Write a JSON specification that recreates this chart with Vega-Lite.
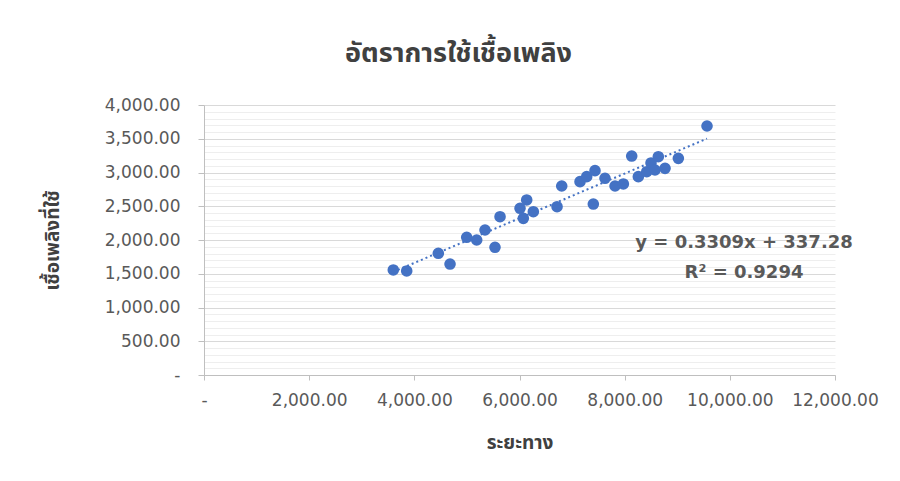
{
  "$schema": "https://vega.github.io/schema/vega-lite/v6.json",
  "autosize": {"type": "none"},
  "width": 631,
  "height": 270,
  "padding": {"left": 204, "top": 105, "right": 65, "bottom": 106},
  "background": "white",
  "title": {
    "text": "อัตราการใช้เชื้อเพลิง",
    "font": "Noto Sans Thai, Noto Sans Thai UI, Loma, Garuda, Noto Sans, sans-serif",
    "fontSize": 27,
    "fontWeight": "bold",
    "color": "#404040",
    "anchor": "middle",
    "dx": -61,
    "offset": 28
  },
  "config": {
    "view": {"stroke": null}
  },
  "datasets": {
    "points": [
      {"distance": 3600, "fuel": 1556},
      {"distance": 3855, "fuel": 1541},
      {"distance": 4456, "fuel": 1803},
      {"distance": 4679, "fuel": 1644},
      {"distance": 4996, "fuel": 2040},
      {"distance": 5186, "fuel": 2000},
      {"distance": 5344, "fuel": 2148},
      {"distance": 5534, "fuel": 1892},
      {"distance": 5630, "fuel": 2345},
      {"distance": 6010, "fuel": 2470},
      {"distance": 6137, "fuel": 2593},
      {"distance": 6263, "fuel": 2419},
      {"distance": 6073, "fuel": 2321},
      {"distance": 6714, "fuel": 2493},
      {"distance": 6803, "fuel": 2800},
      {"distance": 7151, "fuel": 2864},
      {"distance": 7278, "fuel": 2938},
      {"distance": 7436, "fuel": 3027},
      {"distance": 7404, "fuel": 2533},
      {"distance": 7626, "fuel": 2914},
      {"distance": 7817, "fuel": 2800},
      {"distance": 7975, "fuel": 2830},
      {"distance": 8134, "fuel": 3244},
      {"distance": 8260, "fuel": 2938},
      {"distance": 8420, "fuel": 3012},
      {"distance": 8501, "fuel": 3141},
      {"distance": 8577, "fuel": 3037},
      {"distance": 8640, "fuel": 3234},
      {"distance": 8768, "fuel": 3062},
      {"distance": 9021, "fuel": 3210},
      {"distance": 9566, "fuel": 3689}
    ],
    "trend": [
      {"distance": 3600, "fuel": 1528.52},
      {"distance": 9566, "fuel": 3502.67}
    ],
    "equation": [
      {"distance": 10270, "fuel": 1956, "label": "y = 0.3309x + 337.28"},
      {"distance": 10270, "fuel": 1511, "label": "R² = 0.9294"}
    ]
  },
  "encoding": {
    "x": {
      "field": "distance",
      "type": "quantitative",
      "scale": {"domain": [0, 12000], "nice": false, "zero": true},
      "axis": {
        "values": [0, 2000, 4000, 6000, 8000, 10000, 12000],
        "labelExpr": "datum.value === 0 ? '-\u00a0' : format(datum.value, ',.2f')",
        "grid": false,
        "domainColor": "#bfbfbf",
        "domainWidth": 1,
        "tickColor": "#bfbfbf",
        "tickSize": 5,
        "labelPadding": 12,
        "labelFont": "DejaVu Sans",
        "labelFontSize": 17,
        "labelColor": "#595959",
        "labelFlush": false,
        "labelOverlap": false,
        "title": "ระยะทาง",
        "titleFont": "Noto Sans Thai, Noto Sans Thai UI, Loma, Garuda, Noto Sans, sans-serif",
        "titleFontSize": 19,
        "titleFontWeight": "bold",
        "titleColor": "#404040",
        "titleY": 67,
        "titleBaseline": "middle"
      }
    },
    "y": {
      "field": "fuel",
      "type": "quantitative",
      "scale": {"domain": [0, 4000], "nice": false, "zero": true},
      "axis": {
        "values": [0, 100, 200, 300, 400, 500, 600, 700, 800, 900, 1000, 1100, 1200, 1300, 1400, 1500, 1600, 1700, 1800, 1900, 2000, 2100, 2200, 2300, 2400, 2500, 2600, 2700, 2800, 2900, 3000, 3100, 3200, 3300, 3400, 3500, 3600, 3700, 3800, 3900, 4000],
        "labelExpr": "datum.value === 0 ? '-\u00a0\u00a0\u00a0' : (datum.value % 500 === 0 ? format(datum.value, ',.2f') : '')",
        "grid": true,
        "gridColor": {"condition": {"test": "datum.value % 500 === 0", "value": "#d9d9d9"}, "value": "#eeeeee"},
        "gridWidth": 1,
        "domainColor": "#bfbfbf",
        "domainWidth": 1,
        "tickColor": "#bfbfbf",
        "tickOpacity": {"condition": {"test": "datum.value % 500 === 0", "value": 1}, "value": 0},
        "tickSize": 6,
        "labelPadding": 18,
        "labelFont": "DejaVu Sans",
        "labelFontSize": 17,
        "labelColor": "#595959",
        "labelFlush": false,
        "labelOverlap": false,
        "title": "เชื้อเพลิงที่ใช้",
        "titleFont": "Noto Sans Thai, Noto Sans Thai UI, Loma, Garuda, Noto Sans, sans-serif",
        "titleFontSize": 19,
        "titleFontWeight": "bold",
        "titleColor": "#404040",
        "titleX": -152,
        "titleY": 135,
        "titleAngle": -90,
        "titleAlign": "center",
        "titleBaseline": "middle"
      }
    }
  },
  "layer": [
    {
      "data": {"name": "trend"},
      "mark": {"type": "line", "color": "#4472C4", "strokeWidth": 2, "strokeDash": [2, 3]}
    },
    {
      "data": {"name": "points"},
      "mark": {"type": "point", "shape": "circle", "filled": true, "size": 135, "color": "#4472C4", "opacity": 1}
    },
    {
      "data": {"name": "equation"},
      "mark": {"type": "text", "font": "DejaVu Sans", "fontWeight": "bold", "fontSize": 18, "color": "#595959", "align": "center", "baseline": "middle"},
      "encoding": {"text": {"field": "label"}}
    }
  ]
}
